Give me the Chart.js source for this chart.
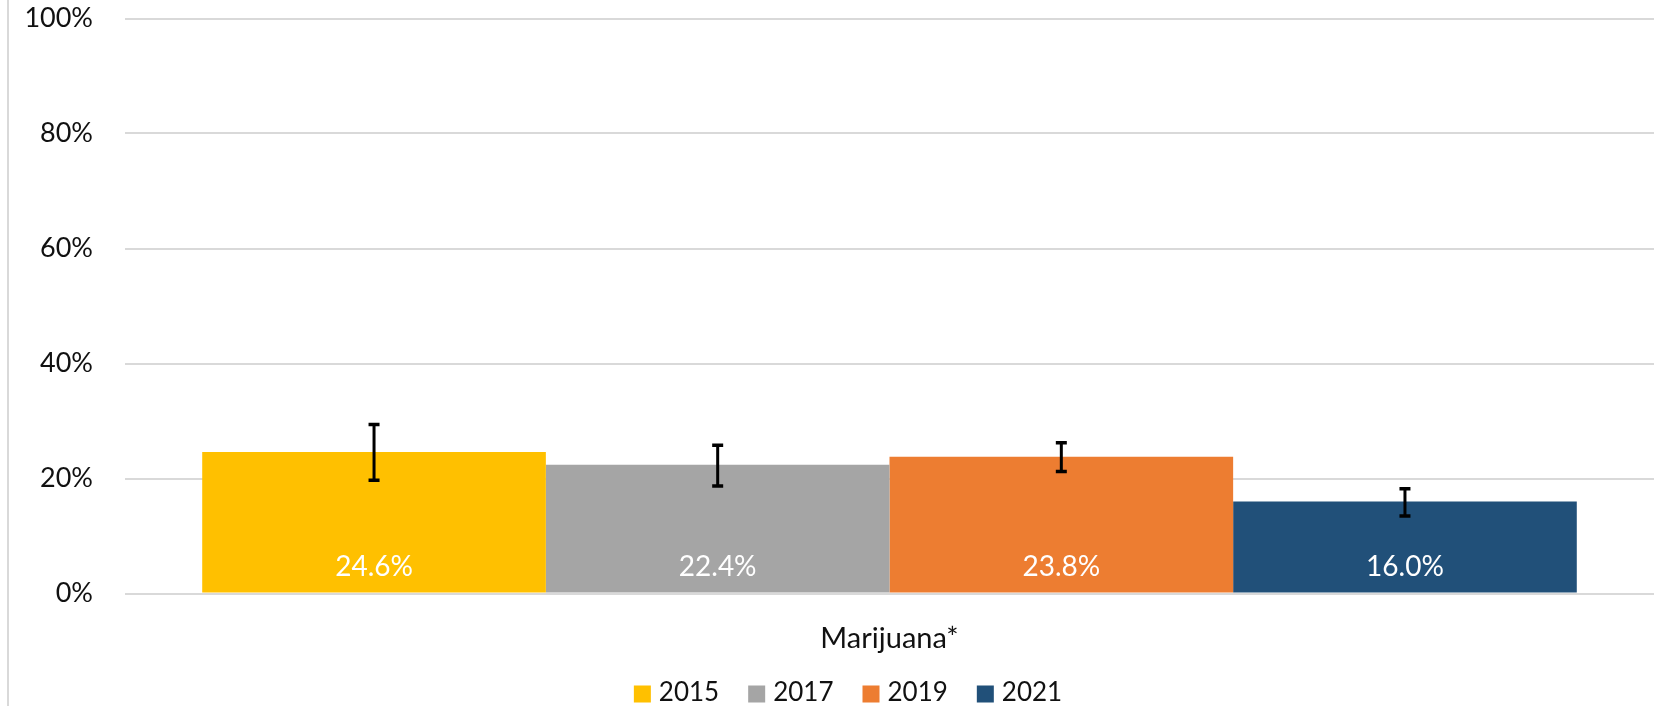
<!DOCTYPE html>
<html>
<head>
<meta charset="utf-8">
<title>Marijuana*</title>
<script src="https://cdn.jsdelivr.net/npm/chart.js@4.4.1/dist/chart.umd.min.js"></script>
<style>
    html, body { margin: 0; padding: 0; background: #fff; overflow: hidden; }
    #wrap { position: relative; width: 1660px; height: 706px; }
    #frameLine { position: absolute; left: 7px; top: 0; width: 2px; height: 706px; background: #d9d9d9; }
</style>
</head>
<body>
<div id="wrap">
    <div id="frameLine"></div>
    <canvas id="marijuanaChart"></canvas>
</div>
<script>
const categories = ["Marijuana*"];
const years = ["2015", "2017", "2019", "2021"];
const values = [24.6, 22.4, 23.8, 16.0];
const lowerCI = [19.7, 18.7, 21.2, 13.5];
const upperCI = [29.4, 25.8, 26.2, 18.2];
const yTickValues = [0, 20, 40, 60, 80, 100];
const barColors = ["#FFC000", "#A5A5A5", "#ED7D31", "#215079"];

const FONT = "Lato, 'Open Sans', sans-serif";

document.addEventListener("DOMContentLoaded", function () {
    renderChart();
});

/**
 * Error bars (95% CI) drawn from the y scale
 */
const errorBarPlugin = {
    id: "errorBars",
    afterDatasetsDraw(chart) {
        let ctx = chart.ctx;
        let y = chart.scales.y;
        ctx.save();
        ctx.strokeStyle = "#000";
        chart.data.datasets.forEach((ds, i) => {
            let bar = chart.getDatasetMeta(i).data[0];
            let top = y.getPixelForValue(upperCI[i]);
            let bottom = y.getPixelForValue(lowerCI[i]);
            ctx.lineWidth = 3;
            ctx.beginPath();
            ctx.moveTo(bar.x, top);
            ctx.lineTo(bar.x, bottom);
            ctx.stroke();
            ctx.lineWidth = 3.5;
            ctx.beginPath();
            ctx.moveTo(bar.x - 5.5, top);
            ctx.lineTo(bar.x + 5.5, top);
            ctx.moveTo(bar.x - 5.5, bottom);
            ctx.lineTo(bar.x + 5.5, bottom);
            ctx.stroke();
        });
        ctx.restore();
    }
};

/**
 * White value labels near the base of each bar
 */
const valueLabelPlugin = {
    id: "valueLabels",
    afterDatasetsDraw(chart) {
        let ctx = chart.ctx;
        let base = chart.scales.y.getPixelForValue(0);
        ctx.save();
        ctx.font = "28px " + FONT;
        ctx.fillStyle = "#fff";
        ctx.textAlign = "center";
        ctx.textBaseline = "middle";
        chart.data.datasets.forEach((ds, i) => {
            let bar = chart.getDatasetMeta(i).data[0];
            ctx.fillText(ds.data[0].toFixed(1) + "%", bar.x, base - 27);
        });
        ctx.restore();
    }
};

/**
 * Legend drawn under the axis (square swatches, Excel style)
 */
const bottomLegendPlugin = {
    id: "bottomLegend",
    afterDraw(chart) {
        let ctx = chart.ctx;
        let box = 17, gap = 8, spacing = 29;
        ctx.save();
        ctx.font = "26px " + FONT;
        ctx.textBaseline = "middle";
        ctx.textAlign = "left";
        let widths = chart.data.datasets.map(ds => box + gap + ctx.measureText(ds.label).width);
        let total = widths.reduce((a, b) => a + b, 0) + spacing * (widths.length - 1);
        let x = 848 - total / 2;
        let cy = 693;
        chart.data.datasets.forEach((ds, i) => {
            ctx.fillStyle = ds.backgroundColor;
            ctx.fillRect(x, cy - box / 2 + 1, box, box);
            ctx.fillStyle = "#111";
            ctx.fillText(ds.label, x + box + gap, cy);
            x += widths[i] + spacing;
        });
        ctx.restore();
    }
};

/**
 * Render the grouped bar chart
 */
function renderChart() {
    let ctx = document.getElementById("marijuanaChart").getContext("2d");
    let chart = new Chart(ctx, {
        type: "bar",
        data: {
            labels: categories,
            datasets: years.map((yr, i) => ({
                label: yr,
                data: [values[i]],
                backgroundColor: barColors[i],
                borderWidth: 0,
                barPercentage: 1.0,
                categoryPercentage: 0.899
            }))
        },
        options: {
            responsive: true,
            maintainAspectRatio: false,
            animation: false,
            layout: {
                padding: { top: 18.5, right: 6, bottom: 50, left: 0 }
            },
            plugins: {
                legend: { display: false },
                tooltip: { enabled: false }
            },
            scales: {
                x: {
                    grid: { display: false },
                    border: { display: false },
                    ticks: {
                        color: "#111",
                        font: { family: FONT, size: 29 },
                        padding: 20
                    },
                    afterFit: function (scale) { scale.height = 62.5; }
                },
                y: {
                    min: 0,
                    max: 100,
                    afterBuildTicks: function (scale) {
                        scale.ticks = yTickValues.map(v => ({ value: v }));
                    },
                    grid: {
                        color: "#d9d9d9",
                        lineWidth: 2,
                        drawTicks: false
                    },
                    border: { display: false },
                    ticks: {
                        color: "#111",
                        font: { family: FONT, size: 27 },
                        padding: 32,
                        callback: v => v + "%"
                    },
                    afterFit: function (scale) {
                        scale.width = 125;
                        scale.paddingTop = 0;
                        scale.paddingBottom = 0;
                    }
                }
            }
        },
        plugins: [errorBarPlugin, valueLabelPlugin, bottomLegendPlugin]
    });

    document.getElementById("marijuanaChart").parentElement.style.height = "706px";
}
</script>
</body>
</html>
